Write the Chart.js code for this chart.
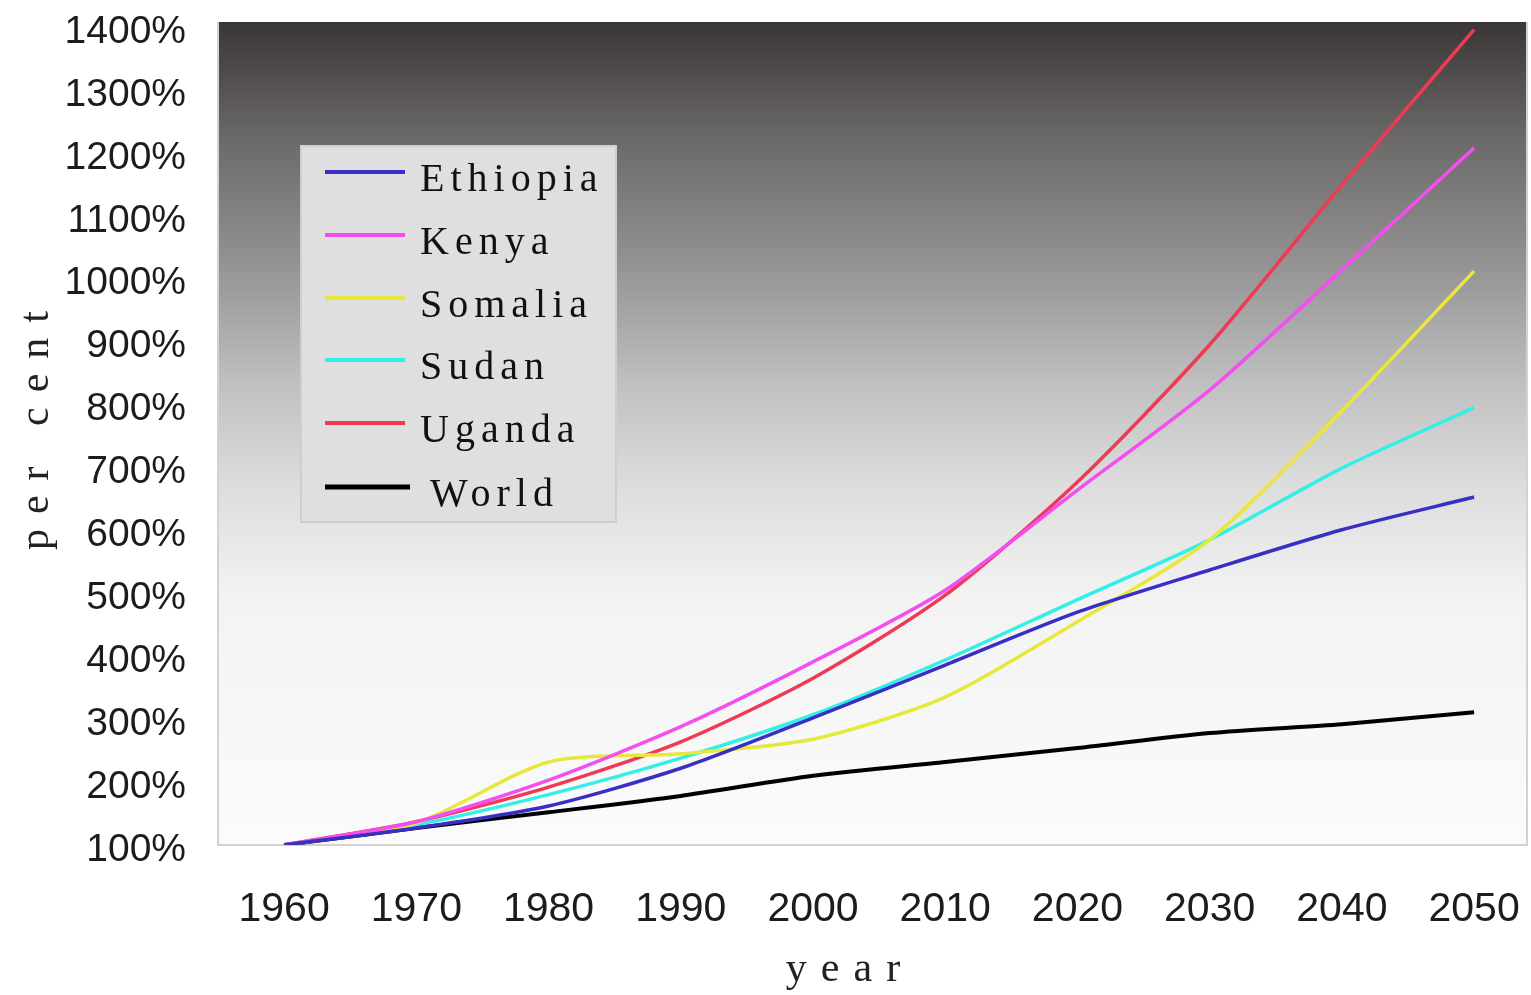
<!DOCTYPE html>
<html lang="en">
<head>
<meta charset="UTF-8">
<title>Population growth, East Africa</title>
<style>
	html, body { margin: 0; padding: 0; background: #fff; overflow: hidden; }
	#wrap { width: 1531px; height: 995px; }
</style>
</head>
<body>

<div id="wrap"><canvas id="lineChart" width="1531" height="995"></canvas></div>

<script src="https://cdn.jsdelivr.net/npm/chart.js"></script>
<script>
// values (per cent of 1960 level)
var years    = [1960, 1970, 1980, 1990, 2000, 2010, 2020, 2030, 2040, 2050];
var ethiopia = [100, 127, 162, 222, 302, 386, 470, 537, 601, 653];
var kenya    = [100, 137, 203, 288, 391, 505, 664, 823, 1014, 1208];
var somalia  = [100, 135, 232, 245, 268, 335, 455, 585, 790, 1012];
var sudan    = [100, 132, 180, 238, 307, 394, 490, 585, 699, 795];
var uganda   = [100, 137, 192, 264, 365, 497, 677, 895, 1149, 1396];
var world    = [100, 127, 152, 178, 210, 232, 254, 278, 292, 311];
var yTicks   = [100, 200, 300, 400, 500, 600, 700, 800, 900, 1000, 1100, 1200, 1300, 1400];

var seriesNames  = ['Ethiopia', 'Kenya', 'Somalia', 'Sudan', 'Uganda', 'World'];
var seriesValues = [ethiopia, kenya, somalia, sudan, uganda, world];
var seriesColors = ['#3a2fc4', '#f24ef0', '#e8e83c', '#33efe6', '#ee3a55', '#000000'];

function points(arr) {
	return years.map(function (yr, i) { return { x: yr, y: arr[i] }; });
}

var datasets = seriesNames.map(function (name, i) {
	return {
		label: name,
		data: points(seriesValues[i]),
		borderColor: seriesColors[i],
		backgroundColor: seriesColors[i],
		borderWidth: name === 'World' ? 4 : 3.5,
		pointRadius: 0,
		tension: 0.25,
		fill: false
	};
});

// no automatic room for overhanging tick labels
function noPadding(s) {
	s.paddingTop = 0;
	s.paddingBottom = 0;
	s.paddingLeft = 0;
	s.paddingRight = 0;
}

// grey gradient behind the plot and the thin frame
var plotBackground = {
	id: 'plotBackground',
	beforeDatasetsDraw: function (chart) {
		var a = chart.chartArea, ctx = chart.ctx;
		var g = ctx.createLinearGradient(0, a.top, 0, a.bottom);
		g.addColorStop(0.00, '#3a3636');
		g.addColorStop(0.14, '#6b6868');
		g.addColorStop(0.28, '#908e8e');
		g.addColorStop(0.44, '#c0c0c0');
		g.addColorStop(0.56, '#dcdcdc');
		g.addColorStop(0.70, '#f3f3f3');
		g.addColorStop(1.00, '#fbfbfb');
		ctx.save();
		ctx.fillStyle = g;
		ctx.fillRect(a.left, a.top, a.right - a.left, a.bottom - a.top);
		ctx.strokeStyle = '#d2d2d2';
		ctx.lineWidth = 2;
		ctx.beginPath();
		ctx.moveTo(a.left, a.top);
		ctx.lineTo(a.left, a.bottom);
		ctx.lineTo(a.right, a.bottom);
		ctx.lineTo(a.right, a.top);
		ctx.stroke();
		ctx.restore();
	}
};

// legend box inside the plot + spaced serif axis titles
var legendAndTitles = {
	id: 'legendAndTitles',
	afterDraw: function (chart) {
		var ctx = chart.ctx;
		ctx.save();
		ctx.fillStyle = '#dfdfdf';
		ctx.fillRect(300, 145, 317, 378);
		ctx.strokeStyle = '#cfcfcf';
		ctx.lineWidth = 2;
		ctx.strokeRect(301, 146, 315, 376);

		var rowY = [172, 235, 298, 360, 423, 487];
		ctx.font = '40px "Liberation Serif", "DejaVu Serif", serif';
		ctx.textBaseline = 'middle';
		ctx.letterSpacing = '6px';
		seriesNames.forEach(function (name, i) {
			var y = rowY[i];
			ctx.strokeStyle = seriesColors[i];
			ctx.lineWidth = name === 'World' ? 5 : 4;
			ctx.beginPath();
			ctx.moveTo(325, y);
			ctx.lineTo(name === 'World' ? 410 : 405, y);
			ctx.stroke();
			ctx.fillStyle = '#111';
			ctx.fillText(name, name === 'World' ? 430 : 420, y + 8);
		});

		ctx.fillStyle = '#222';
		ctx.font = '42px "Liberation Serif", "DejaVu Serif", serif';
		ctx.letterSpacing = '14px';
		ctx.textAlign = 'center';
		ctx.fillText('year', 850, 970);

		ctx.translate(37, 430);
		ctx.rotate(-Math.PI / 2);
		ctx.letterSpacing = '15px';
		ctx.fillText('per cent', 7, 0);
		ctx.restore();
	}
};

var ctx = document.getElementById('lineChart').getContext('2d');
var lineChart = new Chart(ctx, {
	type: 'line',
	data: { datasets: datasets },
	options: {
		responsive: false,
		animation: false,
		layout: { padding: { top: 22, right: 4, left: 0, bottom: 0 } },
		plugins: {
			legend: { display: false },
			tooltip: { enabled: false }
		},
		scales: {
			x: {
				type: 'linear',
				min: 1955,
				max: 2054,
				afterBuildTicks: function (s) {
					s.ticks = years.map(function (v) { return { value: v }; });
				},
				afterFit: function (s) { s.height = 150; noPadding(s); },
				grid: { display: false },
				border: { display: false },
				ticks: {
					autoSkip: false,
					maxRotation: 0,
					padding: 32,
					color: '#1c1c1c',
					font: { family: '"Liberation Sans", Arial, sans-serif', size: 41 },
					callback: function (v) { return String(v); }
				}
			},
			y: {
				min: 100,
				max: 1408,
				afterBuildTicks: function (s) {
					s.ticks = yTicks.map(function (v) { return { value: v }; });
				},
				afterFit: function (s) { s.width = 218; noPadding(s); },
				grid: { display: false },
				border: { display: false },
				ticks: {
					padding: 24,
					labelOffset: 5,
					color: '#1c1c1c',
					font: { family: '"Liberation Sans", Arial, sans-serif', size: 39 },
					callback: function (v) { return v + '%'; }
				}
			}
		}
	},
	plugins: [plotBackground, legendAndTitles]
});
</script>

</body>
</html>
